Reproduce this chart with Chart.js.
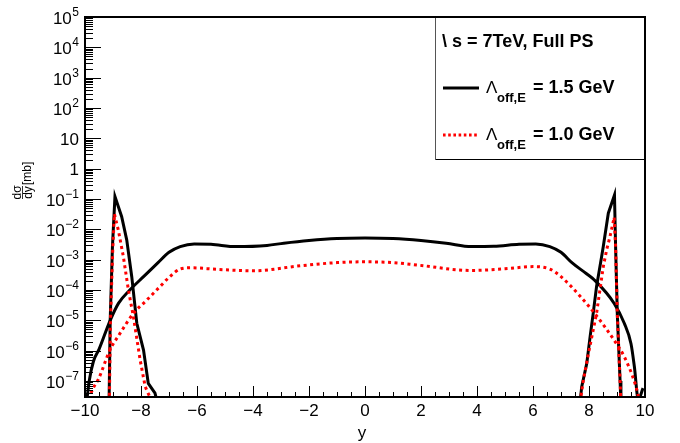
<!DOCTYPE html>
<html>
<head>
<meta charset="utf-8">
<script src="https://cdn.jsdelivr.net/npm/chart.js@4/dist/chart.umd.min.js"></script>
<style>
  html, body { margin: 0; padding: 0; background: #fff; }
  canvas { display: block; }
</style>
</head>
<body>
<canvas id="dsdy" width="680" height="443"></canvas>
<script>
// broad part of each curve
const blackX = [-9.93,-9.85,-9.7,-9.5,-9.1,-8.8,-8.4,-7.9,-7.4,-7.0,-6.6,-6.1,-5.5,-4.6,-3.5,-2.9,-2.0,-1.0,0,1.0,2.0,2.9,3.8,4.6,5.5,6.1,6.6,7.0,7.4,7.9,8.2,8.9,9.26,9.5,9.62,9.76,9.93];
const blackY = [2.5e-8,1.0e-7,4.4e-7,1.1e-6,1.0e-5,3.7e-5,1.0e-4,2.8e-4,7.8e-4,1.75e-3,2.7e-3,3.3e-3,3.2e-3,2.7e-3,2.95e-3,3.5e-3,4.3e-3,5.0e-3,5.2e-3,5.0e-3,4.3e-3,3.5e-3,2.7e-3,2.75e-3,3.2e-3,3.3e-3,2.7e-3,1.75e-3,7.8e-4,3.5e-4,2.1e-4,3.6e-5,8e-6,1.7e-6,3.0e-7,2.5e-8,5.8e-8];
const redX = [-9.88,-9.7,-9.52,-9.11,-8.75,-8.27,-7.79,-7.32,-7.0,-6.6,-6.2,-5.3,-4.0,-2.3,-1.0,0,1.0,1.9,3.8,5.0,6.0,6.6,7.0,7.7,8.3,8.9,9.26,9.56,9.74,9.82];
const redY = [2.5e-8,6e-8,1.15e-7,1.05e-6,3.7e-6,1.7e-5,4.7e-5,1.3e-4,2.6e-4,4.9e-4,5.4e-4,4.8e-4,4.3e-4,6.3e-4,8.0e-4,8.5e-4,8.0e-4,6.6e-4,4.4e-4,5.0e-4,5.9e-4,4.9e-4,2.75e-4,6.0e-5,1.3e-5,2.2e-6,6.3e-7,1.4e-7,3.9e-8,1.5e-8];

// the narrow peaks near |y| ~ 9
const blackLeftX = [-9.14,-9.10,-9.02,-8.93,-8.69,-8.51,-8.33,-8.15,-7.91,-7.74,-7.5,-7.42];
const blackLeftY = [2e-8,1e-5,2.7e-3,0.12,2.6e-2,4.5e-3,2.75e-4,8e-6,1.05e-6,8.3e-8,4e-8,2e-8];
const blackRightX = [7.68,7.74,7.92,8.04,8.15,8.27,8.45,8.51,8.69,8.91,8.95,9.01,9.11,9.14];
const blackRightY = [2e-8,6.5e-8,3.8e-7,2.9e-6,1.7e-5,1.3e-4,1.26e-3,2.7e-3,3.4e-2,0.135,2.7e-3,1.7e-5,1e-7,2e-8];
const redLeftX = [-9.13,-9.09,-9.01,-8.95,-8.81,-8.63,-8.45,-8.27,-8.03,-7.85,-7.6];
const redLeftY = [2e-8,1e-5,2e-3,3.2e-2,9.5e-3,1.26e-3,1e-4,1.3e-5,4.9e-7,6.5e-8,2e-8];
const redRightX = [7.68,7.8,7.98,8.15,8.27,8.39,8.51,8.63,8.75,8.9,8.95,9.01,9.11,9.14];
const redRightY = [2e-8,1.07e-7,8.1e-7,4.8e-6,1.7e-5,1e-4,5.9e-4,2.1e-3,5.8e-3,2.5e-2,2.7e-3,1.7e-5,1e-7,2e-8];

const xTicks = [-10,-8,-6,-4,-2,0,2,4,6,8,10];
const yTickExps = [-7,-6,-5,-4,-3,-2,-1,0,1,2,3,4,5];
const legendHeader = '\\ s = 7TeV, Full PS';
const legendLabels = ['= 1.5 GeV', '= 1.0 GeV'];

const FONT = '"Liberation Sans", Arial, Helvetica, sans-serif';

function pts(xs, ys){ return xs.map((x,i)=>({x, y: ys[i]})); }

function curve(xs, ys, color, dashed, smooth){
  return {
    data: pts(xs, ys),
    borderColor: color,
    borderWidth: 3,
    borderDash: dashed ? [3,3.5] : [],
    borderCapStyle: 'butt',
    pointRadius: 0,
    fill: false,
    clip: 0,
    tension: smooth ? 0.4 : 0,
    cubicInterpolationMode: smooth ? 'monotone' : 'default',
    order: dashed ? 0 : 1
  };
}

const rootFrame = {
  id: 'rootFrame',
  afterDraw(chart){
    const ctx = chart.ctx, a = chart.chartArea;
    const xs = chart.scales.x, ys = chart.scales.y;
    ctx.save();
    ctx.strokeStyle = '#000';
    ctx.lineWidth = 1;
    const seg = (x1,y1,x2,y2)=>{ ctx.beginPath(); ctx.moveTo(x1,y1); ctx.lineTo(x2,y2); ctx.stroke(); };

    // y ticks, inside the frame
    for (let e = -8; e <= 5; e++){
      const v = Math.pow(10, e);
      if (v >= ys.min && v <= ys.max){
        const py = Math.round(ys.getPixelForValue(v)) + 0.5;
        seg(a.left, py, a.left + 16, py);
      }
      for (let m = 2; m <= 9; m++){
        const mv = m * v;
        if (mv < ys.min || mv > ys.max) continue;
        const py = Math.round(ys.getPixelForValue(mv)) + 0.5;
        seg(a.left, py, a.left + 8, py);
      }
    }
    // x ticks
    for (let t = -10; t <= 10.001; t += 0.5){
      const px = Math.round(xs.getPixelForValue(t)) + 0.5;
      const major = xTicks.some(k => Math.abs(k - t) < 1e-6);
      seg(px, a.bottom, px, a.bottom - (major ? 11 : 5));
    }

    // y labels
    ctx.fillStyle = '#000';
    ctx.textAlign = 'right';
    ctx.textBaseline = 'alphabetic';
    yTickExps.forEach(e => {
      const py = ys.getPixelForValue(Math.pow(10, e));
      const right = 79;
      if (e === 0 || e === 1){
        ctx.font = '17px ' + FONT;
        ctx.fillText(e === 0 ? '1' : '10', right, py + 6.5);
      } else {
        const ex = e < 0 ? '\u2212' + (-e) : String(e);
        ctx.font = '12px ' + FONT;
        const w = ctx.measureText(ex).width;
        ctx.fillText(ex, right, py - 1);
        ctx.font = '17px ' + FONT;
        ctx.fillText('10', right - w - 0.5, py + 7);
      }
    });

    // x labels
    ctx.textAlign = 'center';
    ctx.font = '17px ' + FONT;
    xTicks.forEach(t => {
      const px = xs.getPixelForValue(t);
      ctx.fillText(t < 0 ? '\u2212' + (-t) : String(t), px, 416);
    });
    ctx.fillText('y', 362, 438);

    // y title: d sigma / dy [mb], rotated
    ctx.save();
    ctx.translate(22, 199);
    ctx.rotate(-Math.PI / 2);
    ctx.font = '12px ' + FONT;
    ctx.textAlign = 'center';
    ctx.fillText('d\u03c3', 6.5, -1.5);
    ctx.fillText('dy', 6.5, 9.5);
    ctx.lineWidth = 0.8;
    seg(0, 0.5, 13, 0.5);
    ctx.textAlign = 'left';
    ctx.font = '12px ' + FONT;
    ctx.fillText('[mb]', 14, 8.5);
    ctx.restore();

    // legend
    ctx.fillStyle = '#fff';
    ctx.fillRect(435, 17, 210, 142);
    ctx.strokeStyle = '#555';
    ctx.lineWidth = 1;
    seg(435.5, 17, 435.5, 159.5);
    ctx.strokeStyle = '#000';
    seg(435.5, 159.5, 645, 159.5);
    ctx.fillStyle = '#000';
    ctx.textAlign = 'left';
    ctx.font = 'bold 18px ' + FONT;
    ctx.fillText(legendHeader, 442, 47);

    const rows = [{y: 88, base: 92.5, color: '#000', dash: []}, {y: 135, base: 139.5, color: '#ff0000', dash: [2.6,2.6]}];
    rows.forEach((r, i) => {
      ctx.save();
      ctx.strokeStyle = r.color;
      ctx.lineWidth = 3;
      ctx.setLineDash(r.dash);
      ctx.lineCap = 'butt';
      seg(443, r.y, 479, r.y);
      ctx.restore();
      ctx.fillStyle = '#000';
      ctx.font = '17px ' + FONT;
      ctx.fillText('\u039b', 486, r.base);
      ctx.font = 'bold 13px ' + FONT;
      ctx.fillText('off,E', 497, r.base + 9);
      ctx.font = 'bold 18px ' + FONT;
      ctx.fillText(legendLabels[i], 533, r.base);
    });

    // frame
    ctx.strokeStyle = '#000';
    ctx.lineWidth = 2;
    ctx.strokeRect(a.left, a.top, a.right - a.left, a.bottom - a.top);
    ctx.restore();
  }
};

new Chart(document.getElementById('dsdy'), {
  type: 'line',
  data: {
    datasets: [
      curve(blackX, blackY, '#000', false, true),
      curve(blackLeftX, blackLeftY, '#000', false, false),
      curve(blackRightX, blackRightY, '#000', false, false),
      curve(redX, redY, '#ff0000', true, true),
      curve(redLeftX, redLeftY, '#ff0000', true, false),
      curve(redRightX, redRightY, '#ff0000', true, false)
    ]
  },
  options: {
    responsive: false,
    animation: false,
    layout: { padding: { left: 85, right: 35, top: 17, bottom: 46 } },
    scales: {
      x: { type: 'linear', min: -10, max: 10, display: false },
      y: { type: 'logarithmic', min: 2.97e-8, max: 1e5, display: false }
    },
    plugins: { legend: { display: false }, tooltip: { enabled: false } }
  },
  plugins: [rootFrame]
});
</script>
</body>
</html>
